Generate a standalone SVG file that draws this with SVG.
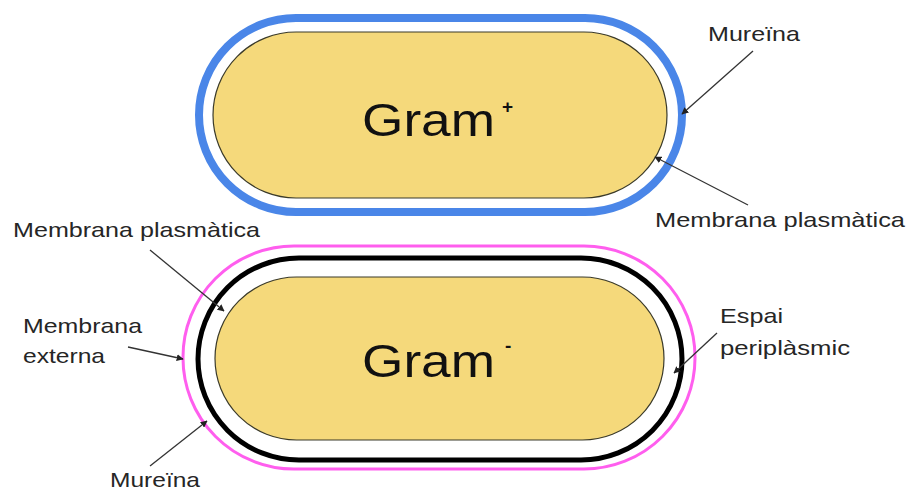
<svg xmlns="http://www.w3.org/2000/svg" width="908" height="491" viewBox="0 0 908 491">
  <style>
    .cyto { fill: #f5d97b; stroke: #3a3a2a; stroke-width: 1.2; }
    .label { font-family: "Liberation Sans", Arial, sans-serif; font-size: 21px; fill: #262626; }
    .big { font-family: "Liberation Sans", Arial, sans-serif; font-size: 46px; fill: #111; }
    .sup { font-family: "Liberation Sans", Arial, sans-serif; font-size: 19px; font-weight: bold; fill: #111; }
    .conn line { stroke: #333; stroke-width: 1.3; marker-end: url(#head); }
  </style>
  <defs>
    <marker id="head" viewBox="0 0 10 10" refX="9" refY="5" markerWidth="7" markerHeight="7" markerUnits="userSpaceOnUse" orient="auto">
      <path d="M0,0 L10,5 L0,10 z" fill="#222"/>
    </marker>
  </defs>
  <rect width="908" height="491" fill="#fff"/>

  <!-- Gram-positive cell -->
  <g id="gram-positive">
    <rect x="199" y="18" width="483" height="194" rx="97" ry="97" fill="none" stroke="#4a86e8" stroke-width="8"/>
    <rect class="cyto" x="213" y="32" width="454" height="166" rx="83" ry="83"/>
    <text class="big" x="362" y="136" textLength="133" lengthAdjust="spacingAndGlyphs">Gram</text>
    <text class="sup" x="502" y="113">+</text>
  </g>

  <!-- Gram-negative cell -->
  <g id="gram-negative">
    <rect x="183" y="246" width="512" height="223" rx="111" ry="111" fill="none" stroke="#ff5eee" stroke-width="3"/>
    <rect x="198" y="258" width="484" height="202" rx="101" ry="101" fill="none" stroke="#000" stroke-width="5"/>
    <rect class="cyto" x="215" y="277" width="449" height="163" rx="81.5" ry="81.5"/>
    <text class="big" x="362" y="377" textLength="133" lengthAdjust="spacingAndGlyphs">Gram</text>
    <text class="sup" x="505" y="352">-</text>
  </g>

  <!-- Labels -->
  <g id="label-mureina-top"><text class="label" x="708" y="41" textLength="92" lengthAdjust="spacingAndGlyphs">Mureïna</text></g>
  <g id="label-membrana-top"><text class="label" x="655" y="227" textLength="250" lengthAdjust="spacingAndGlyphs">Membrana plasmàtica</text></g>
  <g id="label-membrana-left"><text class="label" x="13" y="237" textLength="247" lengthAdjust="spacingAndGlyphs">Membrana plasmàtica</text></g>
  <g id="label-externa">
    <text class="label" x="23" y="333" textLength="119" lengthAdjust="spacingAndGlyphs">Membrana</text>
    <text class="label" x="23" y="363" textLength="82" lengthAdjust="spacingAndGlyphs">externa</text>
  </g>
  <g id="label-mureina-bottom"><text class="label" x="110" y="487" textLength="90" lengthAdjust="spacingAndGlyphs">Mureïna</text></g>
  <g id="label-espai">
    <text class="label" x="720" y="323" textLength="63" lengthAdjust="spacingAndGlyphs">Espai</text>
    <text class="label" x="720" y="355" textLength="130" lengthAdjust="spacingAndGlyphs">periplàsmic</text>
  </g>

  <!-- Connectors -->
  <g id="connectors" class="conn">
    <line x1="753" y1="51" x2="682" y2="114"/>
    <line x1="748" y1="205" x2="655" y2="157"/>
    <line x1="150" y1="250" x2="224" y2="311"/>
    <line x1="128" y1="347" x2="183" y2="359"/>
    <line x1="150" y1="466" x2="207" y2="421"/>
    <line x1="717" y1="333" x2="674" y2="373"/>
  </g>
</svg>
